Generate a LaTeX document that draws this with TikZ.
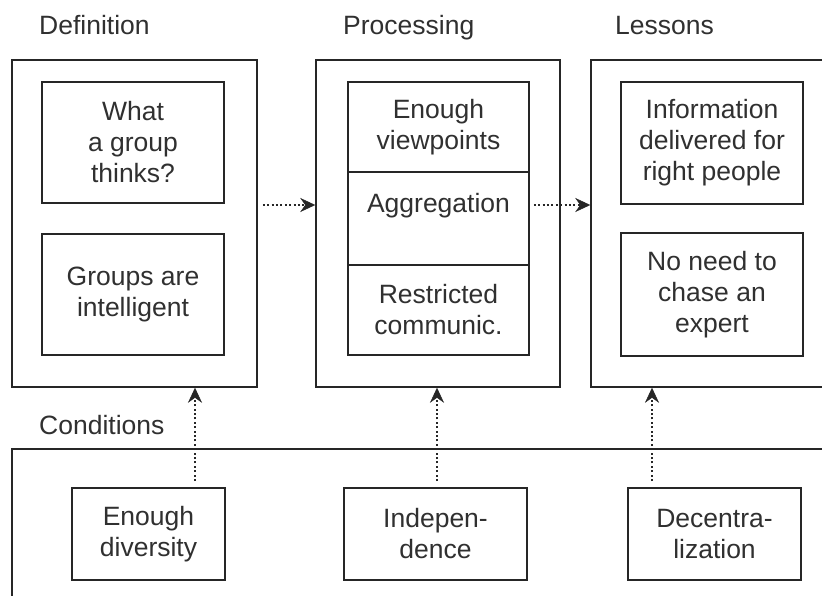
\documentclass[tikz,border=0pt]{standalone}
\usepackage{fontspec}
\setmainfont{Liberation Sans}
\usepackage{xcolor}
\usepackage{tikz}
\usetikzlibrary{arrows.meta,positioning}
\definecolor{linec}{HTML}{262626}
\definecolor{textc}{HTML}{303030}
\tikzset{
  panel/.style={draw=linec,line width=1.5pt,minimum width=#1,inner sep=0pt},
  itm/.style={draw=linec,line width=1.5pt,align=center,inner sep=0pt,text=textc,
    font=\fontsize{26.5}{31}\selectfont},
  ttl/.style={anchor=base west,text=textc,inner sep=0pt,font=\fontsize{26.5}{31}\selectfont},
  flow/.style={-{Stealth[length=15pt,width=14pt,inset=5pt,line width=0.5pt]},linec,line width=1.8pt,
    dash pattern=on 2pt off 2.4pt}
}
\begin{document}
\begin{tikzpicture}[x=1pt,y=-1pt]
\useasboundingbox (0,0) rectangle (822,595);
\clip (0,0) rectangle (822,595);
\fill[white] (0,0) rectangle (822,595);
% titles
\node[ttl] (tdef) at (39,34) {Definition};
\node[ttl] (tproc) at (343,34) {Processing};
\node[ttl] (tles) at (615,34) {Lessons};
\node[ttl] (tcond) at (39,434) {Conditions};
% panels
\node[panel=245pt,minimum height=327pt] (defp) at (134.5,223.5) {};
\node[panel=244pt,minimum height=327pt] (procp) at (438,223.5) {};
\node[panel=260pt,minimum height=327pt] (lesp) at (721,223.5) {};
\node[panel=840pt,minimum height=172pt] (condp) at (432,535) {};
% definition
\node[itm,minimum width=182pt,minimum height=121pt] (def1) at (133,142.5) {What\\a group\\thinks?};
\node[itm,minimum width=182pt,minimum height=121pt] (def2) at (133,294.5) {Groups are\\intelligent};
% processing
\node[itm,minimum width=181pt,minimum height=90pt] (pr1) at (438.5,127) {Enough\\viewpoints};
\node[itm,minimum width=181pt,minimum height=93pt] (pr2) at (438.5,218.5) {Aggregation\\\mbox{}};
\node[itm,minimum width=181pt,minimum height=90pt] (pr3) at (438.5,310) {Restricted\\communic.};
% lessons
\node[itm,minimum width=182pt,minimum height=122pt] (les1) at (712,143) {Information\\delivered for\\right people};
\node[itm,minimum width=182pt,minimum height=123pt] (les2) at (712,294.5) {No need to\\chase an\\expert};
% conditions
\node[itm,minimum width=153pt,minimum height=92pt] (c1) at (148.5,534) {Enough\\diversity};
\node[itm,minimum width=183pt,minimum height=92pt] (c2) at (435.5,534) {Indepen-\\dence};
\node[itm,minimum width=173pt,minimum height=92pt] (c3) at (714.5,534) {Decentra-\\lization};
% arrows
\draw[flow] ([shift={(5,-18.5)}]defp.east) -- ([shift={(0,-18.5)}]procp.west);
\draw[flow] ([shift={(4,-13.5)}]pr2.east) -- ([shift={(0,-18.5)}]lesp.west);
\coordinate (a1) at (195,481);
\coordinate (a2) at (437,481);
\coordinate (a3) at (652,481);
\draw[flow] (a1) -- (a1 |- defp.south);
\draw[flow] (a2) -- (a2 |- procp.south);
\draw[flow] (a3) -- (a3 |- lesp.south);
\end{tikzpicture}
\end{document}
